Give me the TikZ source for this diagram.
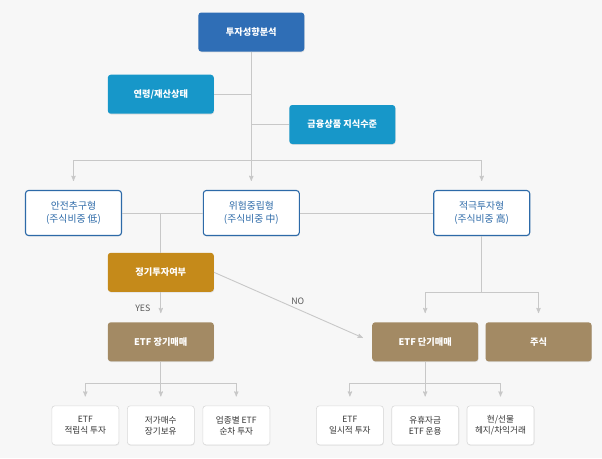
\documentclass[tikz,border=0pt]{standalone}
\usepackage{fontspec}
\setmainfont{Noto Sans CJK KR}
\usepackage{tikz}
\usetikzlibrary{arrows,shadows}
\definecolor{bg_gray}{HTML}{F7F7F7}
\definecolor{top_blue}{HTML}{2F6EB6}
\definecolor{sub_blue}{HTML}{1797C9}
\definecolor{type_blue}{HTML}{2D6AA8}
\definecolor{q_gold}{HTML}{C58A1A}
\definecolor{trade_brown}{HTML}{A38A64}
\definecolor{line_gray}{HTML}{C8C8C8}
\tikzstyle{box_top} = [rectangle, rounded corners=3pt, fill=top_blue, text=white, font=\bfseries\fontsize{9.2}{11}\selectfont, align=center, inner sep=0pt, minimum width=106pt, minimum height=39pt, drop shadow={opacity=0.2, shadow xshift=0.4pt, shadow yshift=-0.8pt}]
\tikzstyle{box_sub} = [box_top, fill=sub_blue]
\tikzstyle{box_type} = [rectangle, rounded corners=3pt, fill=white, draw=type_blue, line width=1.1pt, text=type_blue, font=\fontsize{9.8}{12.5}\selectfont, align=center, inner sep=0pt, minimum width=96pt, minimum height=45pt, drop shadow={opacity=0.2, shadow xshift=0.4pt, shadow yshift=-0.8pt}]
\tikzstyle{box_q} = [box_top, fill=q_gold]
\tikzstyle{box_trade} = [box_top, fill=trade_brown]
\tikzstyle{box_leaf} = [rectangle, rounded corners=3pt, fill=white, draw=black!15, line width=0.6pt, text=black!80, font=\fontsize{8.6}{11}\selectfont, align=center, inner sep=0pt, minimum width=67pt, minimum height=39pt, drop shadow={opacity=0.15, shadow xshift=0.4pt, shadow yshift=-0.8pt}]
\tikzstyle{lbl} = [text=black!65, font=\fontsize{8.8}{10}\selectfont, inner sep=1pt]

\begin{document}
\begin{tikzpicture}[x=1pt,y=-1pt,>=stealth',link/.style={draw=line_gray, line width=0.9pt}, arr/.style={link,->,shorten >=9pt}]
\fill[bg_gray] (0,0) rectangle (602,458);
\useasboundingbox (0,0) rectangle (602,458);

% analysis
\node [box_top] (top) at (251.3,32) {투자성향분석};
\node [box_sub] (age) at (160.8,94.2) {연령/재산상태};
\node [box_sub] (know) at (342.3,124.5) {금융상품 지식수준};

% investor types
\node [box_type] (safe) at (73.5,213) {안전추구형\\(주식비중 低)};
\node [box_type] (risk) at (251.3,213) {위험중립형\\(주식비중 中)};
\node [box_type] (aggr) at (481.7,213) {적극투자형\\(주식비중 高)};
\node [box_q] (q) at (160.8,272.3) {정기투자여부};

% trading
\node [box_trade] (long) at (160.8,341.8) {ETF 장기매매};
\node [box_trade] (short) at (425.2,341.8) {ETF 단기매매};
\node [box_trade] (stock) at (538.5,341.8) {주식};

% leaves
\node [box_leaf] (l1) at (85.3,425.3) {ETF\\적립식 투자};
\node [box_leaf] (l2) at (160.8,425.3) {저가매수\\장기보유};
\node [box_leaf] (l3) at (236.3,425.3) {업종별 ETF\\순차 투자};
\node [box_leaf] (r1) at (349.9,425.3) {ETF\\일시적 투자};
\node [box_leaf] (r2) at (425.2,425.3) {유휴자금\\ETF 운용};
\node [box_leaf] (r3) at (500.5,425.3) {현/선물\\헤지/차익거래};

\coordinate (tbar) at (251.3,160.5);
\coordinate (rbar) at (481.7,292.7);
\coordinate (lbar) at (160.8,383.3);
\coordinate (sbar) at (425.2,383.3);

% connectors
\draw[arr] (top) -- (risk);
\draw[link] (age.east) -- (age.east -| top);
\draw[link] (know.west) -- (know.west -| top);
\draw[arr] (tbar) -| (safe.north);
\draw[arr] (tbar) -| (aggr.north);
\draw[link] (safe) -- (risk);
\draw[link] (risk) -- (aggr);
\draw[link] (q.north |- risk.west) -- (q);
\draw[link] (aggr) -- (rbar);
\draw[arr] (rbar) -| (short.north);
\draw[arr] (rbar) -| (stock.north);
\draw[arr] (q) -- node[lbl, pos=0.55, left=9pt] {YES} (long);
\draw[arr, shorten >=10pt] (q.east) -- node[lbl, pos=0.53, above=3pt] {NO} (short.west);
\draw[link] (long) -- (lbar);
\draw[arr] (lbar) -| (l1.north);
\draw[arr] (lbar) -- (l2.north);
\draw[arr] (lbar) -| (l3.north);
\draw[link] (short) -- (sbar);
\draw[arr] (sbar) -| (r1.north);
\draw[arr] (sbar) -- (r2.north);
\draw[arr] (sbar) -| (r3.north);
\end{tikzpicture}
\end{document}
